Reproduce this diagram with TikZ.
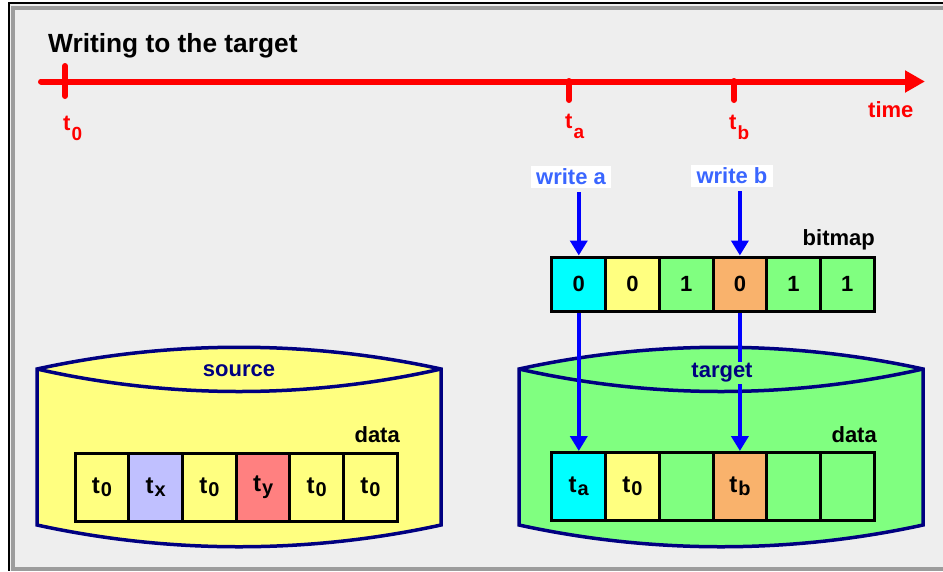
\documentclass[tikz,border=0pt]{standalone}
\usepackage{fontspec}
\setmainfont{Liberation Sans}
\usetikzlibrary{arrows.meta}
\definecolor{panel}{HTML}{EEEEEE}
\definecolor{rim}{HTML}{9C9C9C}
\definecolor{navy}{HTML}{000080}
\definecolor{wblue}{HTML}{3A66FF}
\definecolor{cyellow}{HTML}{FFFF80}
\definecolor{cgreen}{HTML}{80FF80}
\definecolor{ccyan}{HTML}{00FFFF}
\definecolor{corange}{HTML}{F9B26C}
\definecolor{clilac}{HTML}{C0C0FF}
\definecolor{csalmon}{HTML}{FF8080}
\newcommand{\tcell}[1]{{\fontsize{24}{24}\selectfont t}\kern1pt\raisebox{-3pt}{\fontsize{20}{20}\selectfont#1}}
\newcommand{\tmark}[1]{t\kern1pt\raisebox{-10pt}{\fontsize{19}{19}\selectfont#1}}
\begin{document}
\begin{tikzpicture}[x=1pt, y=-1pt, font=\bfseries\fontsize{22}{26}\selectfont,
	cell/.style={draw=black, line width=3pt, minimum width=53.7pt, minimum height=54pt, inner sep=0pt},
	datacell/.style={cell, minimum height=68pt},
	tick/.style={red, line width=6pt, line cap=round},
	timelbl/.style={red, inner sep=0pt, anchor=base west},
	writelbl/.style={fill=white, text=wblue, inner xsep=5.5pt, inner ysep=0pt, minimum height=22pt},
	flow/.style={blue, line width=4pt, -{Triangle[width=17pt,length=15pt]}},
	drum/.style={draw=navy, line width=3.5pt},
	drumlbl/.style={text=navy, inner sep=1pt}]
	\useasboundingbox (0,0) rectangle (943,571);
	\fill[white] (0,0) rectangle (943,571);
	\fill[panel] (9,3) rectangle (943,571);
	\draw[rim, line width=4pt] (943,7.5) -- (13,7.5) -- (13,569) -- (943,569);
	\draw[black, line width=1.5pt] (943,3) -- (9,3) -- (9,571);

	\node[anchor=base west, inner sep=0pt, font=\bfseries\fontsize{26.3}{30}\selectfont] (title) at (48,52) {Writing to the target};

	\coordinate (tstart) at (41,81.5);
	\coordinate (tend) at (925,81.5);
	\draw[red, line width=6pt, line cap=round, -{Triangle[width=21pt,length=20pt]}] (tstart) -- (tend);
	\draw[tick] (65,66) -- (65,96);
	\draw[tick] (569,81) -- (569,100);
	\draw[tick] (734,81) -- (734,100);
	\node[timelbl] (m0) at (63,130) {\tmark{0}};
	\node[timelbl] (ma) at (565,128) {\tmark{a}};
	\node[timelbl] (mb) at (729,129) {\tmark{b}};
	\node[timelbl] (time) at (868,117) {time};

	\node[writelbl] (wa) at (571,177) {write a};
	\node[writelbl] (wb) at (732,176) {write b};
	\node[anchor=base east, inner sep=0pt] (bitmap) at (875,245) {bitmap};

	\node[cell, fill=ccyan] (bm1) at (578.8,284) {0};
	\node[cell, fill=cyellow] (bm2) at (632.5,284) {0};
	\node[cell, fill=cgreen] (bm3) at (686.2,284) {1};
	\node[cell, fill=corange] (bm4) at (739.9,284) {0};
	\node[cell, fill=cgreen] (bm5) at (793.6,284) {1};
	\node[cell, fill=cgreen] (bm6) at (847.3,284) {1};
	\draw[flow, shorten <=4pt] (wa.south -| bm1) -- (bm1.north);
	\draw[flow, shorten <=4pt] (wb.south -| bm4) -- (bm4.north);

	\draw[drum, fill=cyellow] (37,369) .. controls (170,340) and (308,340) .. (441,369) -- (441,525) .. controls (308,554) and (170,554) .. (37,525) -- cycle;
	\draw[drum] (37,369) .. controls (170,399) and (308,399) .. (441,369);
	\node[drumlbl] (source) at (239,371) {source};
	\node[anchor=base east, inner sep=0pt] (srcdata) at (400,442) {data};
	\node[datacell, fill=cyellow] (src1) at (102,487.5) {\tcell{0}};
	\node[datacell, fill=clilac] (src2) at (155.7,487.5) {\tcell{x}};
	\node[datacell, fill=cyellow] (src3) at (209.4,487.5) {\tcell{0}};
	\node[datacell, fill=csalmon] (src4) at (263.1,487.5) {\tcell{y}};
	\node[datacell, fill=cyellow] (src5) at (316.8,487.5) {\tcell{0}};
	\node[datacell, fill=cyellow] (src6) at (370.5,487.5) {\tcell{0}};

	\draw[drum, fill=cgreen] (519,369) .. controls (652,340) and (790,340) .. (923,369) -- (923,525) .. controls (790,554) and (652,554) .. (519,525) -- cycle;
	\draw[drum] (519,369) .. controls (652,399) and (790,399) .. (923,369);
	\node[anchor=base east, inner sep=0pt] (tgtdata) at (877,442) {data};
	\node[datacell, fill=ccyan] (tg1) at (578.8,486.5) {\tcell{a}};
	\node[datacell, fill=cyellow] (tg2) at (632.5,486.5) {\tcell{0}};
	\node[datacell, fill=cgreen] (tg3) at (686.2,486.5) {};
	\node[datacell, fill=corange] (tg4) at (739.9,486.5) {\tcell{b}};
	\node[datacell, fill=cgreen] (tg5) at (793.6,486.5) {};
	\node[datacell, fill=cgreen] (tg6) at (847.3,486.5) {};
	\draw[flow] (bm1.south) -- (tg1.north);
	\draw[flow] (bm4.south) -- (tg4.north);
	\node[drumlbl, fill=cgreen] (target) at (722,373) {target};
\end{tikzpicture}
\end{document}
